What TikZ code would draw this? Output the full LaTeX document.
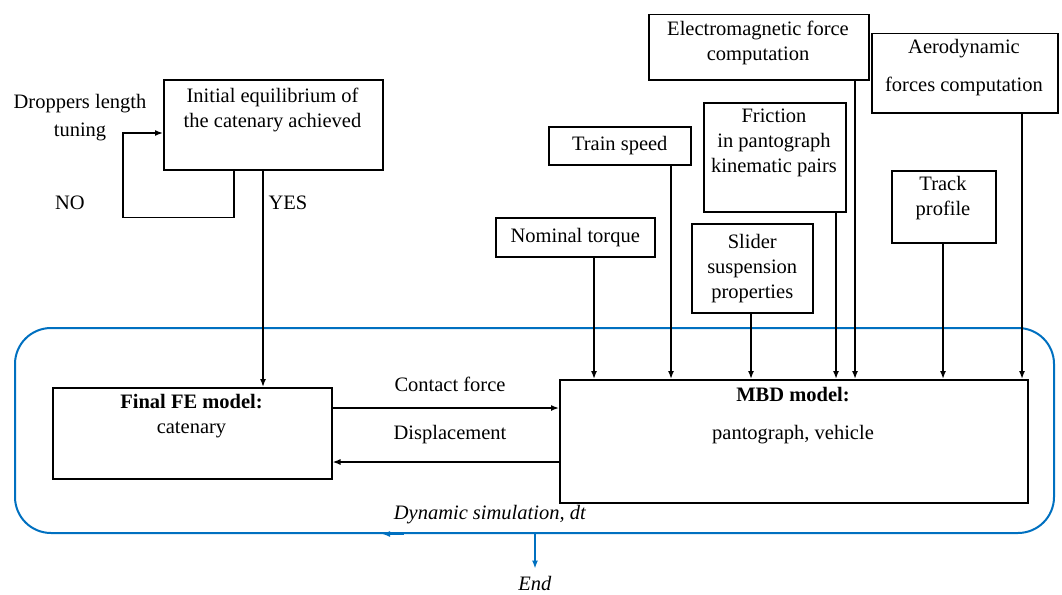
\documentclass[tikz,border=0pt]{standalone}
\usepackage{fontspec}
\setmainfont{Liberation Serif}
\usepackage{xcolor}
\usetikzlibrary{arrows.meta}
\definecolor{simblue}{HTML}{0070C0}
\tikzstyle{box}=[draw, line width=1.5pt, anchor=north west, inner sep=0pt, align=center]
\tikzstyle{txt}=[inner sep=0pt, align=center]
\tikzstyle{arr}=[line width=1.5pt, -{Latex[length=8pt,width=6pt]}]
\tikzstyle{loopbox}=[draw=simblue, line width=2pt, rounded corners=36pt, anchor=north west, inner sep=0pt]
\tikzstyle{bluearr}=[draw=simblue, line width=2pt, -{Latex[length=8pt,width=6pt]}]

\begin{document}
\begin{tikzpicture}[x=1pt, y=-1pt, font=\fontsize{20.5}{25}\selectfont]
 \useasboundingbox (0,0) rectangle (1062,594);
%
 \node[loopbox, minimum width=1039, minimum height=205] (sim) at (14,327) {};
 \node[txt] (dyn) at (490,515) {\textit{Dynamic simulation, dt}};
 \node[txt] (endt) at (535,583) {\textit{End}};
%
 \node[box, minimum width=219, minimum height=90] (ini) at (163,79) {};
 \node[txt] (init) at (272.5,109.5) {Initial equilibrium of\\the catenary achieved};
 \node[txt] (drop) at (80,118) {Droppers length\\[3pt]tuning};
 \node[txt] (no) at (70,203) {NO};
 \node[txt] (yes) at (288,203) {YES};
%
 \node[box, minimum width=279, minimum height=91] (fe) at (52,387) {};
 \node[txt] (fet) at (191.5,416) {\textbf{Final FE model:}\\catenary};
 \node[box, minimum width=468, minimum height=123] (mbd) at (559,379) {};
 \node[txt] (mbdt) at (793,416) {\textbf{MBD model:}\\[13pt]pantograph, vehicle};
 \node[txt] (cf) at (450,384) {Contact force};
 \node[txt] (disp) at (450,435) {Displacement};
%
 \node[box, minimum width=159, minimum height=39] (nt) at (495,217) {Nominal torque};
 \node[box, minimum width=142, minimum height=38] (ts) at (548,126) {Train speed};
 \node[box, minimum width=121, minimum height=89] (sl) at (691,223) {Slider\\suspension\\properties};
 \node[box, minimum width=142, minimum height=109] (fr) at (703,102) {};
 \node[txt] (frt) at (774,143) {Friction\\in pantograph\\kinematic pairs};
 \node[box, minimum width=220, minimum height=65] (em) at (648,14) {};
 \node[txt] (emt) at (758,42.5) {Electromagnetic force\\computation};
 \node[box, minimum width=104, minimum height=72] (tp) at (891,170) {};
 \node[txt] (tpt) at (943,198.5) {Track\\profile};
 \node[box, minimum width=186, minimum height=79] (ae) at (871,33) {};
 \node[txt] (aet) at (964,68) {Aerodynamic\\[13pt]forces computation};
%
 \draw[arr] ([xshift=71]ini.south west) |- ++(-111,47) |- ([yshift=-54]ini.north west);
 \draw[arr] ([xshift=100]ini.south west) -- ([xshift=100]ini.south west |- fe.north);
 \draw[arr] ([yshift=-21]fe.north east) -- ([yshift=-21]fe.north east -| mbd.west);
 \draw[arr] ([yshift=-75]fe.north east -| mbd.west) -- ([yshift=-75]fe.north east);
 \foreach \b/\s in {nt/99, ts/123, sl/60, fr/133, em/207, tp/52, ae/151}
  \draw[arr] ([xshift=\s]\b.south west) -- ([xshift=\s]\b.south west |- mbd.north);
%
 \draw[bluearr] ([xshift=390]sim.south west) -- ([xshift=368]sim.south west);
 \draw[bluearr, shorten >=7pt] (sim.south -| endt) -- (endt.north);
\end{tikzpicture}
\end{document}
